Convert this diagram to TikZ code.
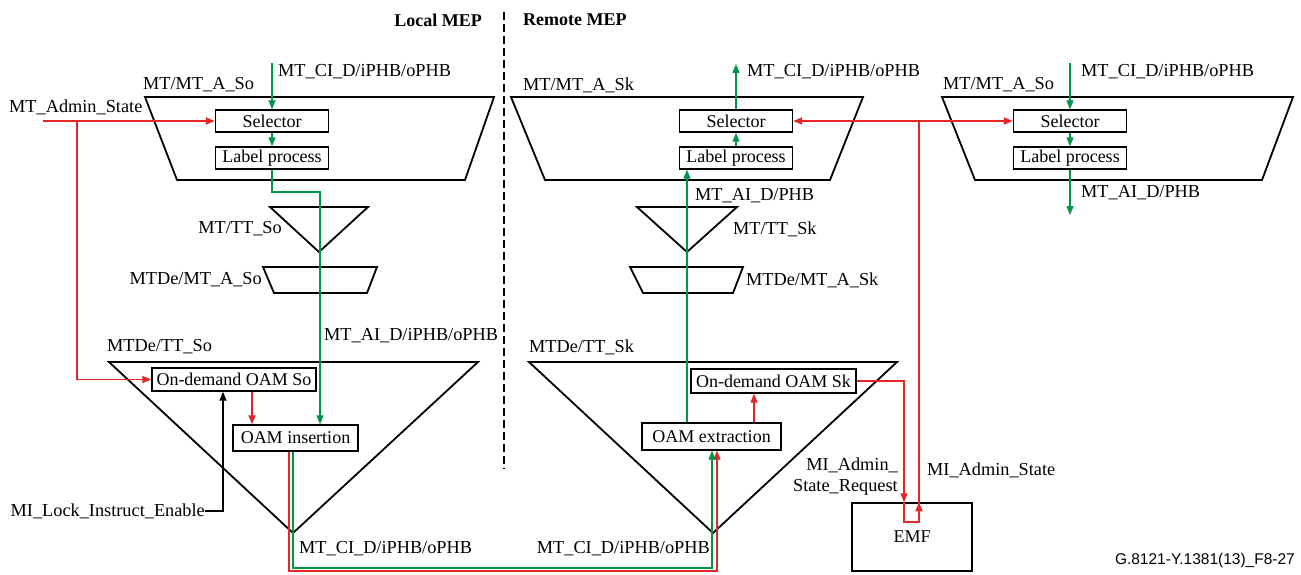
\documentclass[tikz,border=0pt]{standalone}
\usepackage{fontspec}
\setmainfont{Liberation Serif}
\setsansfont{Liberation Sans}
\usetikzlibrary{arrows.meta,positioning,calc}
\definecolor{sigred}{RGB}{228,38,36}
\definecolor{siggreen}{RGB}{0,150,70}

\begin{document}
\begin{tikzpicture}[
  x=1pt, y=-1pt,
  every node/.style={inner sep=0pt, font=\fontsize{18.3}{21}\selectfont},
  fnbox/.style={draw, fill=white, line width=1.4pt, minimum width=113pt, minimum height=22pt, font=\fontsize{18}{20}\selectfont},
  blockline/.style={draw, line width=1.8pt, line join=miter},
  redsig/.style={draw=sigred, line width=1.4pt},
  grnsig/.style={draw=siggreen, line width=1.4pt},
  tip/.style={-{Triangle[length=9pt,width=7pt]}},
  hdr/.style={font=\bfseries\fontsize{18}{21}\selectfont}
]
  \useasboundingbox (0,0) rectangle (1301,575);

  \node[hdr, anchor=east] (local) at (482,20) {Local MEP};
  \node[hdr, anchor=west] (remote) at (523,20) {Remote MEP};
  \draw[line width=1.3pt, dash pattern=on 8pt off 4pt] (504,12) -- (504,469);

  \draw[blockline] (145,97) -- (494,97) -- (465,180) -- (177,180) -- cycle;
  \draw[blockline] (270,207) -- (368,207) -- (319,252) -- cycle;
  \draw[blockline] (263,267) -- (377,267) -- (367,293) -- (274,293) -- cycle;
  \draw[blockline] (109,362) -- (478,362) -- (293,533) -- cycle;
  \draw[blockline] (511,97) -- (863,97) -- (830,180) -- (545,180) -- cycle;
  \draw[blockline] (637,207) -- (737,207) -- (687,252) -- cycle;
  \draw[blockline] (630,267) -- (743,267) -- (733,293) -- (643,293) -- cycle;
  \draw[blockline] (529,362) -- (897,362) -- (713,533) -- cycle;
  \draw[blockline] (942,97) -- (1293,97) -- (1262,180) -- (975,180) -- cycle;

  \node[fnbox] (selL) at (272,121) {Selector};
  \node[fnbox] (lpL) at (272,158) {Label process};
  \node[fnbox] (selR) at (736,121) {Selector};
  \node[fnbox] (lpR) at (736,158) {Label process};
  \node[fnbox] (selF) at (1070,121) {Selector};
  \node[fnbox] (lpF) at (1070,158) {Label process};
  \node[fnbox, minimum width=164pt, minimum height=23pt] (odSo) at (234,379.5) {On-demand OAM So};
  \node[fnbox, minimum width=125pt, minimum height=26pt] (insSo) at (295.5,438) {OAM insertion};
  \node[fnbox, minimum width=165pt, minimum height=24pt] (odSk) at (773.5,381) {On-demand OAM Sk};
  \node[fnbox, minimum width=139pt, minimum height=27pt] (extSk) at (711.5,436.5) {OAM extraction};
  \node[fnbox, minimum width=120pt, minimum height=68pt] (emf) at (912,537) {EMF};

  \node[anchor=west] at (143,85) {MT/MT\_A\_So};
  \node[anchor=west] at (278,72) {MT\_CI\_D/iPHB/oPHB};
  \node[anchor=west] (admin) at (9,107) {MT\_Admin\_State};
  \node[anchor=east] at (282,229) {MT/TT\_So};
  \node[anchor=east] at (262,280) {MTDe/MT\_A\_So};
  \node[anchor=west] at (324,336) {MT\_AI\_D/iPHB/oPHB};
  \node[anchor=west] at (107,347) {MTDe/TT\_So};
  \node[anchor=east] (lock) at (205,511) {MI\_Lock\_Instruct\_Enable};
  \node[anchor=west] at (299,549) {MT\_CI\_D/iPHB/oPHB};
  \node[anchor=east] at (710,549) {MT\_CI\_D/iPHB/oPHB};
  \node[anchor=west] at (523,85) {MT/MT\_A\_Sk};
  \node[anchor=west] at (747,72) {MT\_CI\_D/iPHB/oPHB};
  \node[anchor=west] at (695,196) {MT\_AI\_D/PHB};
  \node[anchor=west] at (733,229) {MT/TT\_Sk};
  \node[anchor=west] at (746,280) {MTDe/MT\_A\_Sk};
  \node[anchor=west] at (529,347) {MTDe/TT\_Sk};
  \node[anchor=east, align=right] at (898,477) {MI\_Admin\_\\State\_Request};
  \node[anchor=west] at (927,470) {MI\_Admin\_State};
  \node[anchor=west] at (943,85) {MT/MT\_A\_So};
  \node[anchor=west] at (1081,72) {MT\_CI\_D/iPHB/oPHB};
  \node[anchor=west] at (1081,193) {MT\_AI\_D/PHB};
  \node[anchor=east, font=\sffamily\fontsize{15.5}{17}\selectfont] at (1295,560) {G.8121-Y.1381(13)\_F8-27};

  \coordinate (ciL) at (272,63);
  \coordinate (aiL) at (320,192);
  \coordinate (admL) at (43,121);
  \coordinate (admJ) at (77,121);
  \coordinate (ciR) at (736,64);
  \coordinate (ciF) at (1070,63);
  \coordinate (aiF) at (1070,215);
  \coordinate (redLow) at (717,571);
  \coordinate (grnLow) at (712,568);
  \coordinate (loopB) at (919,522);
  \coordinate (admR) at (919,121);

  \draw[grnsig, tip] (ciL) -- (selL.north);
  \draw[grnsig, tip] (selL.south) -- (lpL.north);
  \draw[grnsig, tip] (lpL.south) |- (aiL) -- (aiL |- insSo.north);
  \draw[redsig, tip] (admL) -- (selL.west);
  \draw[redsig, tip] (admJ) |- (odSo.west);
  \draw[redsig, tip] (252,0 |- odSo.south) -- (252,0 |- insSo.north);
  \draw[line width=1.4pt, tip] (lock.east) -| (223,0 |- odSo.south);

  \draw[redsig, tip] (289,0 |- insSo.south) |- (redLow) -- (redLow |- extSk.south);
  \draw[grnsig, tip] (293,0 |- insSo.south) |- (grnLow) -- (grnLow |- extSk.south);

  \draw[grnsig, tip] (687,0 |- extSk.north) -- (687,0 |- lpR.south);
  \draw[grnsig, tip] (lpR.north) -- (selR.south);
  \draw[grnsig, tip] (selR.north) -- (ciR);
  \draw[redsig, tip] (754,0 |- extSk.north) -- (754,0 |- odSk.south);

  \draw[redsig, tip] (odSk.east) -| (904,0 |- emf.north);
  \draw[redsig] (904,0 |- emf.north) |- (loopB) -- (919,0 |- emf.north);
  \draw[redsig, tip] (loopB) -- (919,0 |- emf.north);
  \draw[redsig] (919,0 |- emf.north) -- (admR);
  \draw[redsig, tip] (admR) -- (selR.east);
  \draw[redsig, tip] (admR) -- (selF.west);

  \draw[grnsig, tip] (ciF) -- (selF.north);
  \draw[grnsig, tip] (selF.south) -- (lpF.north);
  \draw[grnsig, tip] (lpF.south) -- (aiF);
\end{tikzpicture}
\end{document}
